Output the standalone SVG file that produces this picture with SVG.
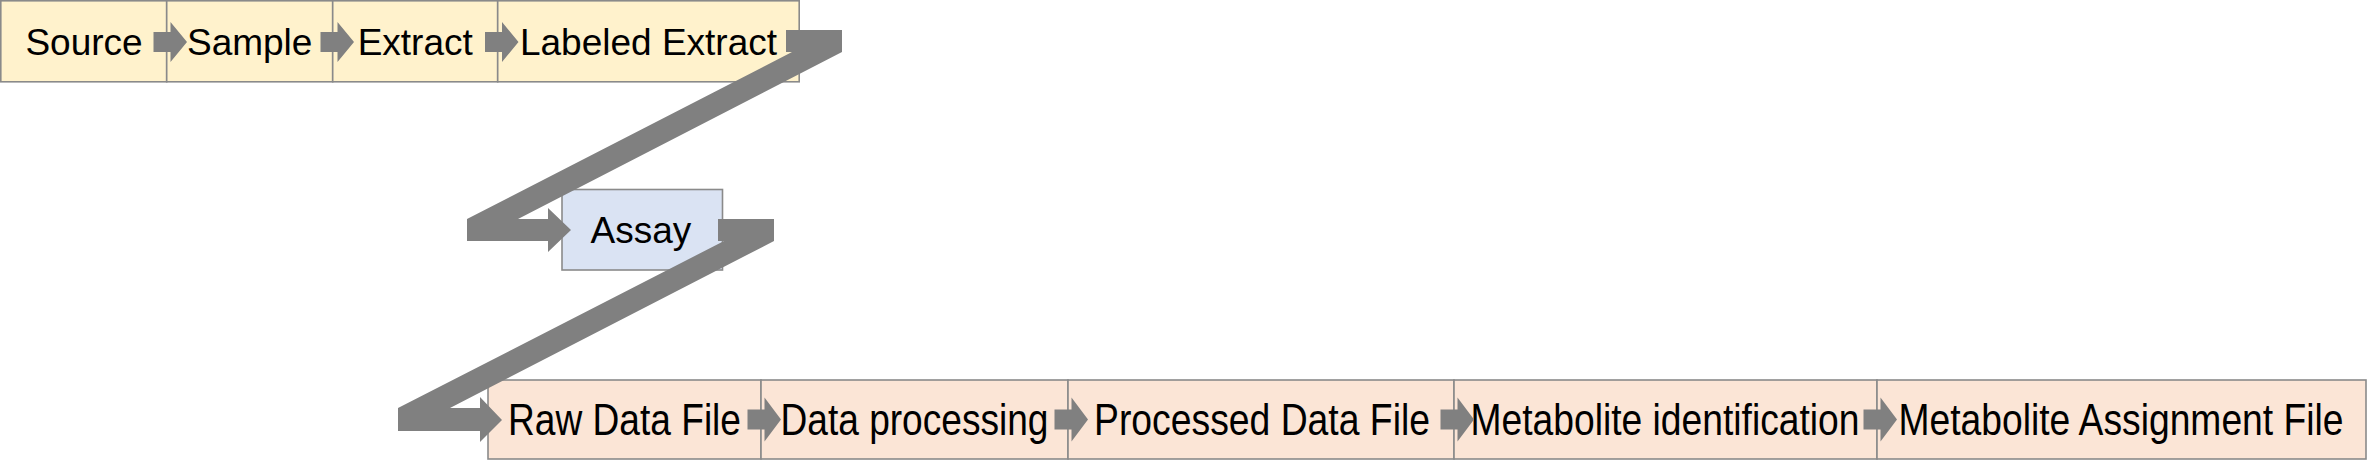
<svg xmlns="http://www.w3.org/2000/svg" width="2369" height="466" viewBox="0 0 2369 466">
<style>
.box{stroke:#8a8a8a;stroke-width:1.6}
.top{fill:#fff2cc}
.assay{fill:#dae3f3}
.bot{fill:#fbe5d6}
.t{font-family:"Liberation Sans",Arial,sans-serif;font-size:37px;fill:#000;text-anchor:middle}
.tb{font-family:"Liberation Sans",Arial,sans-serif;font-size:45px;fill:#000;text-anchor:middle}
.conn{fill:#808080}
</style>
<defs>
<path id="arT" d="M0,-10 H17 V-20 L33.5,0 L17,20 V10 H0 Z"/>
<path id="arB" d="M0,-10 H17 V-22 L33.5,0 L17,22 V10 H0 Z"/>
</defs>
<rect width="2369" height="466" fill="#ffffff"/>
<g id="node-source"><rect class="box top" x="0.8" y="0.8" width="165.9" height="81"/><text class="t" x="84" y="55">Source</text></g>
<g id="node-sample"><rect class="box top" x="166.7" y="0.8" width="166" height="81"/><text class="t" x="249.7" y="55">Sample</text></g>
<g id="node-extract"><rect class="box top" x="332.7" y="0.8" width="165" height="81"/><text class="t" x="415.2" y="55">Extract</text></g>
<g id="node-labeled-extract"><rect class="box top" x="497.7" y="0.8" width="301.5" height="81"/><text class="t" x="648.5" y="55">Labeled Extract</text></g>
<g id="node-assay"><rect class="box assay" x="562" y="189.5" width="160.5" height="80.5"/><text class="t" x="641" y="243">Assay</text></g>
<g id="node-raw-data-file"><rect class="box bot" x="488" y="380" width="273" height="79"/><text class="tb" x="624.5" y="435" textLength="233" lengthAdjust="spacingAndGlyphs">Raw Data File</text></g>
<g id="node-data-processing"><rect class="box bot" x="761" y="380" width="307" height="79"/><text class="tb" x="914.5" y="435" textLength="268" lengthAdjust="spacingAndGlyphs">Data processing</text></g>
<g id="node-processed-data-file"><rect class="box bot" x="1068" y="380" width="386" height="79"/><text class="tb" x="1262" y="435" textLength="336" lengthAdjust="spacingAndGlyphs">Processed Data File</text></g>
<g id="node-metabolite-identification"><rect class="box bot" x="1454" y="380" width="423" height="79"/><text class="tb" x="1665" y="435" textLength="389" lengthAdjust="spacingAndGlyphs">Metabolite identification</text></g>
<g id="node-metabolite-assignment-file"><rect class="box bot" x="1877" y="380" width="489" height="79"/><text class="tb" x="2121" y="435" textLength="445" lengthAdjust="spacingAndGlyphs">Metabolite Assignment File</text></g>
<g id="connectors" class="conn">
<use href="#arT" x="153.5" y="42"/>
<use href="#arT" x="320.5" y="42"/>
<use href="#arT" x="485" y="42"/>
<path d="M786,30 H842 V52 L518,219 H548 V208 L571,230 L548,252 V241 H467 V219 L792,52 H786 Z"/>
<path d="M718,219 H774 V241 L450,408 H480 V397 L502,420 L480,442 V431 H398 V408 L724,241 H718 Z"/>
<use href="#arB" x="747.5" y="419.5"/>
<use href="#arB" x="1054.5" y="419.5"/>
<use href="#arB" x="1440.5" y="419.5"/>
<use href="#arB" x="1863.5" y="419.5"/>
</g>
</svg>
